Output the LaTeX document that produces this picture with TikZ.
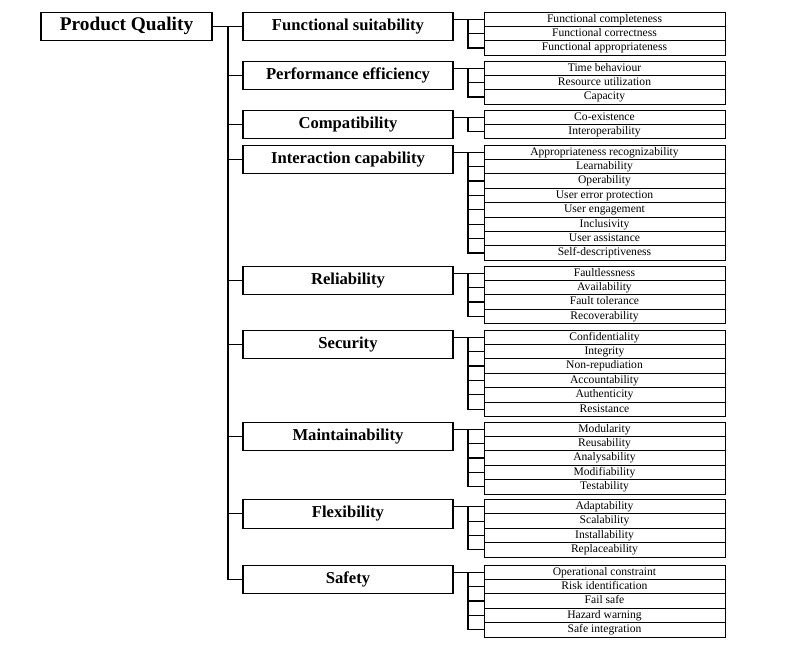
\documentclass[tikz,border=0pt]{standalone}
\usepackage{fontspec}
\setmainfont{Liberation Serif}
\usepackage{tikz}

\tikzset{
  rootbox/.style={draw, line width=0.9pt, minimum width=5.13cm, minimum height=0.855cm,
    inner sep=0pt, font=\fontsize{16.5}{18}\selectfont\bfseries},
  charbox/.style={draw, line width=0.9pt, minimum width=6.3cm, minimum height=0.855cm,
    inner sep=0pt, text height=9.6pt, text depth=3pt, font=\fontsize{14.2}{16}\selectfont\bfseries},
  subbox/.style={draw, line width=0.8pt, minimum width=7.23cm, minimum height=0.432cm,
    inner sep=0pt, text height=6.8pt, text depth=2pt, font=\fontsize{9.9}{11}\selectfont},
  link/.style={line width=0.9pt}
}

\begin{document}
\begin{tikzpicture}[x=0.03cm,y=-0.03cm]
        \useasboundingbox (0,0) rectangle (799,647);
        \node[rootbox] (quality) at (126.5,26.3) {Product Quality};
        \coordinate (trunk) at (228,26.3);
        \foreach \k/\ytop/\cname/\subs in {
            1/12/{Functional suitability}/{Functional completeness,Functional correctness,Functional appropriateness},
            2/61/{Performance efficiency}/{Time behaviour,Resource utilization,Capacity},
            3/110/{Compatibility}/{Co-existence,Interoperability},
            4/145/{Interaction capability}/{Appropriateness recognizability,Learnability,Operability,User error protection,User engagement,Inclusivity,User assistance,Self-descriptiveness},
            5/266/{Reliability}/{Faultlessness,Availability,Fault tolerance,Recoverability},
            6/330/{Security}/{Confidentiality,Integrity,Non-repudiation,Accountability,Authenticity,Resistance},
            7/422/{Maintainability}/{Modularity,Reusability,Analysability,Modifiability,Testability},
            8/499.5/{Flexibility}/{Adaptability,Scalability,Installability,Replaceability},
            9/565/{Safety}/{Operational constraint,Risk identification,Fail safe,Hazard warning,Safe integration}}{
            \node[charbox] (char-\k) at (348,\ytop+14.3) {\cname};
            \foreach \itm [count=\j] in \subs
                \node[subbox] (sub-\k-\j) at (604.5,\ytop+14.4*\j-7.2) {\itm};
            \coordinate (spine-\k) at (468,\ytop+7.2);
            \draw[link] (trunk) |- (char-\k.west);
            \draw[link] (char-\k.east |- spine-\k) -- (sub-\k-1.west);
            \foreach \itm [count=\j] in \subs
                \draw[link] (spine-\k) |- (sub-\k-\j.west);
        }
        \draw[link] (quality.east) -- (trunk);
    \end{tikzpicture}
\end{document}
